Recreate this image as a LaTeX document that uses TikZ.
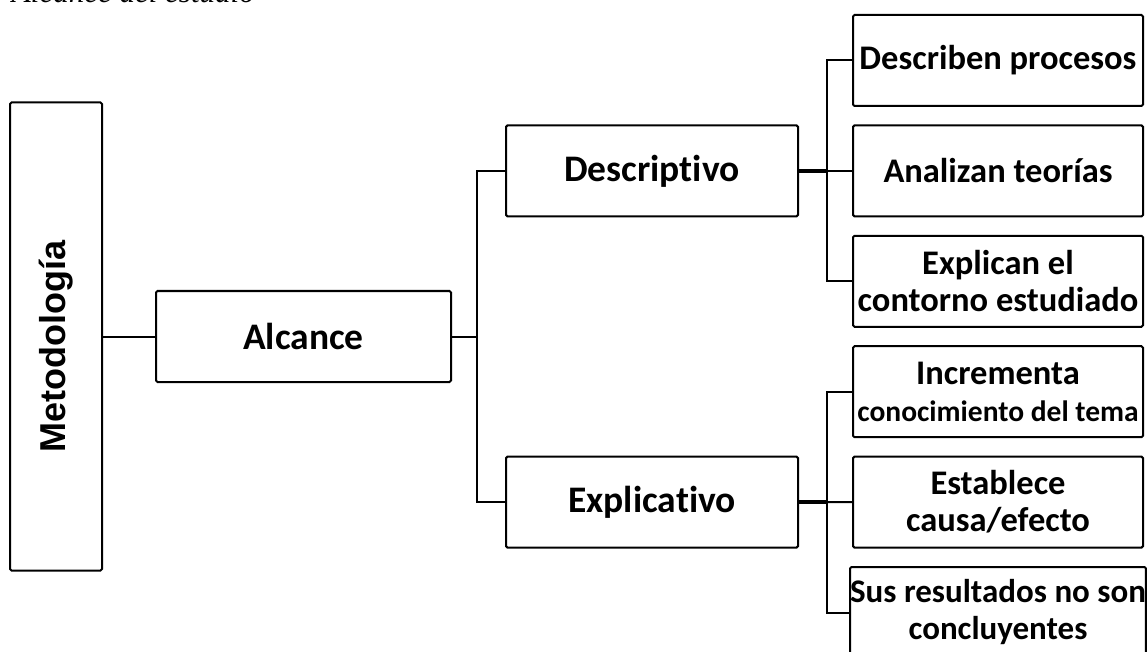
\documentclass[tikz,border=0pt]{standalone}
\usepackage{fontspec}
\usepackage{graphicx}
\setmainfont{Carlito}[Ligatures=NoCommon]
\newfontfamily\arialfont{Liberation Sans}
\newfontfamily\timesfont{Liberation Serif}
\usetikzlibrary{positioning}

\begin{document}
\begin{tikzpicture}[
  x=1pt, y=-1pt,
  every node/.style={draw=black, line width=2pt, rounded corners=1.5pt, align=center, inner sep=0pt},
  mainbox/.style={minimum width=292pt, minimum height=91pt, font=\bfseries\fontsize{37.5}{37}\selectfont},
  leafbox/.style={minimum width=290pt, minimum height=91pt, font=\bfseries\fontsize{34.5}{37}\selectfont},
  link/.style={line width=2pt},
  stub/.style={line width=3.6pt}
]
  \useasboundingbox (0,0) rectangle (1148,652);
  \node (title) [draw=none, anchor=south west, text depth=0pt, font=\timesfont\itshape\fontsize{31}{31}\selectfont] at (11,4) {Alcance del estudio};

  \node (meto) [minimum width=92pt, minimum height=468pt, font=\arialfont\bfseries\fontsize{36}{36}\selectfont] at (56,336.5) {\rotatebox{90}{Metodología\hspace{20pt}}};
  \node (alc) [mainbox, minimum width=295pt] at (303.5,336.5) {Alcance};
  \node (desc) [mainbox] at (652,170.9) {Descriptivo};
  \node (expl) [mainbox] at (652,502.1) {Explicativo};

  \node (procesos) [leafbox] at (998,60.5) {Describen procesos};
  \node (teorias) [leafbox, below=17.4pt of procesos] {Analizan teorías};
  \node (contorno) [leafbox, below=17.4pt of teorias] {Explican el\\contorno estudiado};
  \node (incrementa) [leafbox, below=17.4pt of contorno] {Incrementa\\{\fontsize{29.5}{33}\selectfont conocimiento del tema}};
  \node (causa) [leafbox, below=17.4pt of incrementa] {Establece\\causa/efecto};
  \node (resultados) [leafbox, below=17.4pt of causa, font=\bfseries\fontsize{33}{37}\selectfont] {Sus resultados no son\\concluyentes};

  \coordinate (abus) at (477,336.5);
  \coordinate (dbus) at (827,170.9);
  \coordinate (ebus) at (827,502.1);

  \draw [link] (meto.east) -- (alc.west);
  \draw [link] (alc.east) -- (abus);
  \draw [link] (abus) |- (desc.west);
  \draw [link] (abus) |- (expl.west);

  \draw [stub] (desc.east) -- (dbus);
  \draw [link] (dbus) -- (teorias.west);
  \draw [link] (dbus) |- (procesos.west);
  \draw [link] (dbus) |- (contorno.west);

  \draw [stub] (expl.east) -- (ebus);
  \draw [link] (ebus) -- (causa.west);
  \draw [link] (ebus) |- (incrementa.west);
  \draw [link] (ebus) |- (resultados.west);
\end{tikzpicture}
\end{document}
